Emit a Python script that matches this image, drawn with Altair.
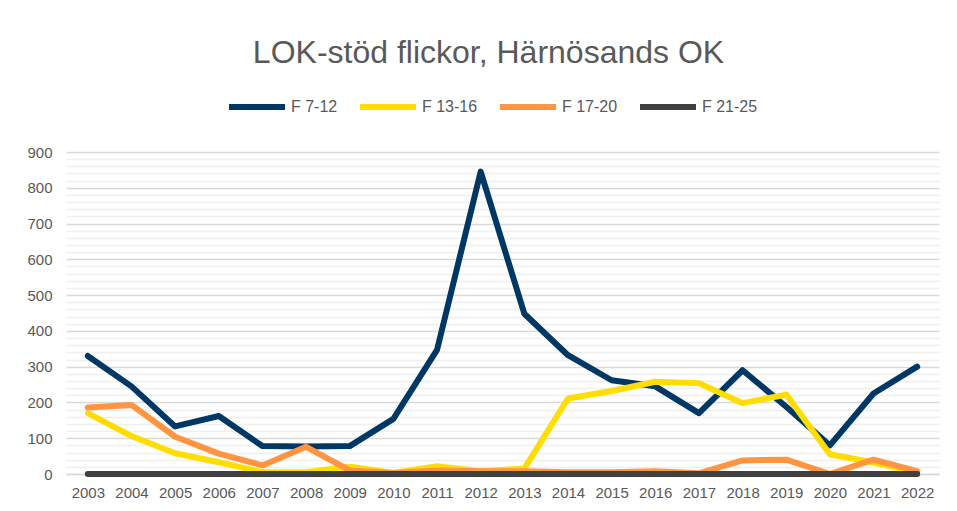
import altair as alt
import pandas as pd

years = [str(y) for y in range(2003, 2023)]
series = ["F 7-12", "F 13-16", "F 17-20", "F 21-25"]
colors = ["#003865", "#FFDD00", "#FF9540", "#404040"]

f7_12 = [330, 245, 133, 162, 78, 77, 78, 154, 347, 845, 448, 332, 262, 245, 170, 290, 188, 80, 225, 300]
f13_16 = [170, 106, 58, 33, 5, 5, 20, 3, 22, 8, 15, 211, 232, 258, 254, 198, 222, 55, 32, 5]
f17_20 = [186, 193, 104, 57, 24, 76, 10, 3, 10, 8, 8, 5, 5, 8, 2, 38, 40, 0, 40, 8]
f21_25 = [0] * 20

values = [f7_12, f13_16, f17_20, f21_25]
rows = []
for s, vals in zip(series, values):
    for y, v in zip(years, vals):
        rows.append({"year": y, "series": s, "value": v})
df = pd.DataFrame(rows)

grid_vals = list(range(0, 901, 20))

base = alt.Chart(df)

color_enc = alt.Color(
    "series:N",
    scale=alt.Scale(domain=series, range=colors),
    legend=alt.Legend(
        title=None,
        orient="none",
        legendX=160,
        legendY=-76,
        direction="horizontal",
        symbolType="stroke",
        symbolSize=3136,
        symbolStrokeWidth=6,
        labelFontSize=16,
        labelColor="#595959",
        labelFont="Liberation Sans",
        labelOffset=3,
        columnPadding=10,
    ),
)

x_enc = alt.X(
    "year:O",
    title=None,
    axis=alt.Axis(
        labelAngle=0,
        labelFontSize=15,
        labelColor="#595959",
        labelFont="Liberation Sans",
        ticks=False,
        labelPadding=11,
        domainColor="#d9d9d9",
        domainWidth=1.5,
        grid=False,
    ),
)
y_enc = alt.Y(
    "value:Q",
    title=None,
    scale=alt.Scale(domain=[0, 900], nice=False),
    axis=alt.Axis(
        values=grid_vals,
        labelExpr="datum.value % 100 === 0 ? datum.label : ''",
        labelFontSize=15,
        labelColor="#595959",
        labelFont="Liberation Sans",
        ticks=False,
        labelPadding=14,
        domain=False,
        gridColor={"condition": {"test": "datum.value % 100 === 0", "value": "#d9d9d9"}, "value": "#efefef"},
        gridWidth=1.5,
    ),
)

layers = []
for s in series:
    layers.append(
        base.transform_filter(alt.datum.series == s)
        .mark_line(strokeWidth=6, strokeCap="round", strokeJoin="round")
        .encode(x=x_enc, y=y_enc, color=color_enc)
    )

chart = (
    alt.layer(*layers)
    .properties(
        width=873,
        height=322,
        background="white",
        autosize=alt.AutoSizeParams(type="none"),
        padding={"left": 58, "top": 144, "right": 10, "bottom": 29},
        title=alt.Title(
            "LOK-stöd flickor, Härnösands OK",
            fontSize=32,
            font="Liberation Sans",
            fontWeight="normal",
            color="#595959",
            anchor="middle",
            frame="group",
            dx=-14,
            offset=6,
        ),
    )
    .configure_view(strokeWidth=0, stroke=None)
)

chart.save("out.html", embed_options={"renderer": "svg", "actions": False})
